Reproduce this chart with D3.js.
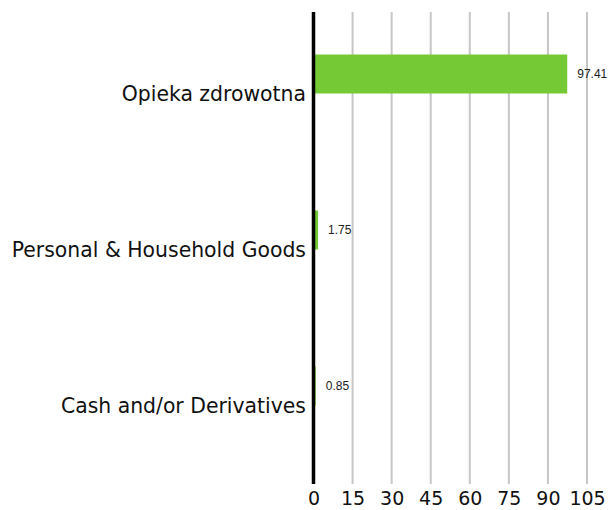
<!DOCTYPE html>
<html>
<head>
<meta charset="utf-8">
<script src="https://cdn.jsdelivr.net/npm/d3@7"></script>
<style>
  body { margin: 0; background: #fff; }
  text { font-family: "DejaVu Sans", sans-serif; }
</style>
</head>
<body>
<svg id="chart" width="614" height="510"></svg>
<script>
// data
const categories = ["Opieka zdrowotna", "Personal & Household Goods", "Cash and/or Derivatives"];
const values = [97.41, 1.75, 0.85];
const tickValues = [0, 15, 30, 45, 60, 75, 90, 105];

const svg = d3.select("#chart");
const plotLeft = 313.5, plotRight = 587, plotTop = 12, plotBottom = 484;

let x = d3.scaleLinear().domain([0, 105]).range([plotLeft, plotRight]);
let y = d3.scaleBand().domain(categories).range([-4, 464]).paddingInner(0.75).paddingOuter(0.375);

// gridlines
svg.append("g")
  .selectAll("line")
  .data(tickValues.filter(d => d > 0))
  .join("line")
  .attr("x1", d => x(d)).attr("x2", d => x(d))
  .attr("y1", plotTop).attr("y2", plotBottom)
  .attr("stroke", "#c6c6c6")
  .attr("stroke-width", 2);

// bars
svg.append("g")
  .selectAll("rect")
  .data(values)
  .join("rect")
  .attr("x", x(0))
  .attr("y", (d, i) => y(categories[i]))
  .attr("width", d => x(d) - x(0))
  .attr("height", y.bandwidth())
  .attr("fill", "#74c935");

// value labels
svg.append("g")
  .selectAll("text")
  .data(values)
  .join("text")
  .attr("x", d => x(d) + 10)
  .attr("y", (d, i) => y(categories[i]) + y.bandwidth() / 2)
  .attr("dy", "0.35em")
  .attr("font-size", 12)
  .style("font-family", '"Liberation Sans", Arial, sans-serif')
  .attr("fill", "#222")
  .text(d => d.toFixed(2));

// category labels
svg.append("g")
  .selectAll("text")
  .data(categories)
  .join("text")
  .attr("x", 306)
  .attr("y", d => y(d) + y.bandwidth() / 2 + 27)
  .attr("text-anchor", "end")
  .attr("font-size", 20.4)
  .attr("fill", "#111")
  .text(d => d);

// x axis tick labels
let xAxis = d3.axisBottom(x).tickValues(tickValues).tickSize(0).tickPadding(0);
let ax = svg.append("g").attr("transform", `translate(0,${plotBottom})`).call(xAxis);
ax.select(".domain").remove();
ax.selectAll("text")
  .attr("y", 21)
  .attr("dy", 0)
  .attr("font-size", 19)
  .attr("fill", "#111")
  .style("font-family", '"DejaVu Sans", sans-serif');

// zero line
svg.append("line")
  .attr("x1", x(0)).attr("x2", x(0))
  .attr("y1", plotTop).attr("y2", plotBottom)
  .attr("stroke", "#000")
  .attr("stroke-width", 3.5);
</script>
</body>
</html>
